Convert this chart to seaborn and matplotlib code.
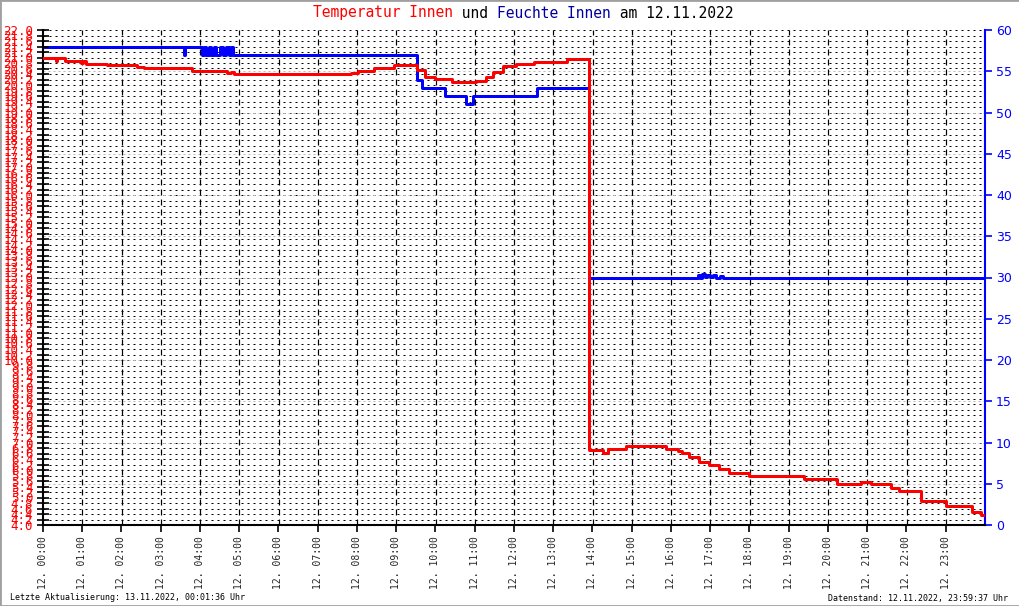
import numpy as np
import pandas as pd
import matplotlib
matplotlib.use("Agg")
import matplotlib.pyplot as plt
import seaborn as sns
from matplotlib.patches import Rectangle

temp_hours = [0.00, 0.33, 0.36, 0.56, 0.98, 1.02, 1.10, 1.64, 2.40, 2.57, 3.80, 4.70,
              4.80, 4.87, 7.84, 8.02, 8.44, 8.95, 9.52, 9.73, 10.00, 10.43, 11.03,
              11.29, 11.47, 11.73, 12.05, 12.51, 13.36, 13.92, 14.28, 14.40, 14.85,
              15.86, 16.19, 16.29, 16.45, 16.71, 16.97, 17.22, 17.48, 18.00, 19.39,
              20.24, 20.83, 21.10, 21.61, 21.81, 22.38, 23.00, 23.68, 23.90, 24.00]
temp_values = [20.97, 20.87, 20.97, 20.87, 20.80, 20.87, 20.76, 20.73, 20.65, 20.61, 20.52, 20.45,
               20.48, 20.40, 20.45, 20.51, 20.61, 20.73, 20.55, 20.30, 20.22, 20.10, 20.15,
               20.30, 20.48, 20.70, 20.76, 20.85, 20.95, 6.73, 6.62, 6.76, 6.87,
               6.76, 6.70, 6.62, 6.47, 6.29, 6.18, 6.04, 5.89, 5.78, 5.67,
               5.49, 5.56, 5.49, 5.35, 5.24, 4.87, 4.69, 4.47, 4.36, 4.36]

# Feuchte Innen (%)
hum_hours = [0.00, 3.59, 3.63, 4.04, 4.10, 4.15, 4.22, 4.28, 4.35, 4.42, 4.50, 4.58,
             4.65, 4.75, 4.80, 4.84, 9.52, 9.65, 10.23, 10.77, 10.96, 12.59, 13.92,
             16.70, 16.75, 16.80, 16.86, 16.92, 17.00, 17.08, 17.15, 17.25, 17.32, 24.00]
hum_values = [58, 57, 58, 57, 58, 57, 58, 57, 58, 57, 58, 57,
              58, 57, 58, 57, 54, 53, 52, 51, 52, 53, 30,
              30.3, 30, 30.4, 30.1, 30.3, 30.1, 30.3, 30, 30.2, 30, 30]

hour_ticks = list(range(24))
hour_labels = ["12. %02d:00" % h for h in hour_ticks]
temp_ticks = np.round(np.arange(4.0, 22.01, 0.2), 1)
hum_ticks = list(range(0, 61, 5))

temp_df = pd.DataFrame({"hour": temp_hours, "temp": temp_values})
hum_df = pd.DataFrame({"hour": hum_hours, "hum": hum_values})

sns.set_theme(style="white")
plt.rcParams["font.family"] = ["DejaVu Sans Mono", "DejaVu Sans"]
plt.rcParams["lines.scale_dashes"] = False

RED = "#ff0000"
BLUE = "#0000ff"
NAVY = "#0000a0"
px = 0.72  # one pixel in points

fig = plt.figure(figsize=(10.2, 6.06), dpi=100)
ax = fig.add_axes([43 / 1020, 1 - 525 / 606, (985 - 43) / 1020, (525 - 30) / 606])
ax2 = ax.twinx()
ax.set_zorder(ax2.get_zorder() + 1)
ax.patch.set_visible(False)
ax2.patch.set_facecolor("white")

ax.set_xlim(0, 24)
ax.set_ylim(4, 22)
ax2.set_ylim(0, 60)

# grid, drawn on the lower axes so both series sit on top of it
for t in temp_ticks[1:]:
    ax2.axhline((t - 4) * 60 / 18, color="black", lw=px, ls=(0, (2 * px, 4 * px)), zorder=0.5)
for h in hum_ticks[1:-1]:
    ax2.axhline(h, color="#bbbbbb", lw=px, ls=(0, (2 * px, 3 * px)), zorder=0.6)
for hr in hour_ticks[1:]:
    ax2.axvline(hr, color="black", lw=1.2 * px, ls=(0, (6 * px, 4 * px)), zorder=0.7)

sns.lineplot(data=hum_df, x="hour", y="hum", ax=ax2, color=BLUE, lw=3 * px,
             drawstyle="steps-post", zorder=3)
sns.lineplot(data=temp_df, x="hour", y="temp", ax=ax, color=RED, lw=3 * px,
             drawstyle="steps-post", zorder=3)

ax.set_xlabel("")
ax.set_ylabel("")
ax2.set_ylabel("")

ax.set_xticks(hour_ticks)
ax.set_xticklabels(hour_labels, rotation=90, fontsize=7, va="top", ha="center")
ax.set_yticks(temp_ticks)
ax.set_yticklabels(["%.1f" % t for t in temp_ticks], fontsize=9, color=RED)
ax.tick_params(axis="x", bottom=True, direction="out", length=5, width=1.2, color="black", pad=3)
ax.tick_params(axis="y", left=True, right=False, direction="inout", length=8, width=1.2,
               color="black", pad=3)

ax2.set_yticks(hum_ticks)
ax2.set_yticklabels([str(h) for h in hum_ticks], fontsize=9, color=BLUE,
                    family="DejaVu Sans")
ax2.tick_params(axis="y", right=True, left=False, direction="out", length=5, width=1.2,
                color=BLUE, pad=3)

for side in ["top", "right"]:
    ax.spines[side].set_visible(False)
for side in ["top", "left", "bottom"]:
    ax2.spines[side].set_visible(False)
ax.spines["left"].set_color("black")
ax.spines["bottom"].set_color("black")
ax.spines["left"].set_linewidth(1.5)
ax.spines["bottom"].set_linewidth(1.5)
ax2.spines["right"].set_color(BLUE)
ax2.spines["right"].set_linewidth(1.5)

# title in coloured pieces, monospace so the pieces can be laid side by side
fs = 10.5
char_w = 0.602 * fs * 100 / 72 / 1020
pieces = [("Temperatur Innen", RED), (" und ", "black"), ("Feuchte Innen", NAVY),
          (" am 12.11.2022", "black")]
x0 = 313 / 1020
for text, col in pieces:
    fig.text(x0, 1 - 13 / 606, text, color=col, fontsize=fs, ha="left", va="center")
    x0 += len(text) * char_w

fig.text(10 / 1020, 1 - 598 / 606, "Letzte Aktualisierung: 13.11.2022, 00:01:36 Uhr",
         fontsize=6, ha="left", va="center", color="black")
fig.text(1008 / 1020, 1 - 598 / 606, "Datenstand: 12.11.2022, 23:59:37 Uhr",
         fontsize=6, ha="right", va="center", color="black")

fig.add_artist(Rectangle((0, 0), 1, 1, transform=fig.transFigure, fill=False,
                         ec="#a0a0a0", lw=2))

fig.savefig("out.png", dpi=100)
